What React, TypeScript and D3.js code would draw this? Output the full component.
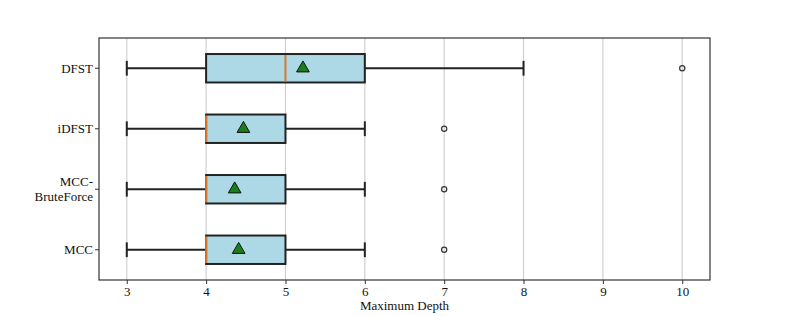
import React, { useEffect, useRef } from "react";
import * as d3 from "d3";

// categories, top to bottom
const methods = ["DFST", "iDFST", "MCC-\nBruteForce", "MCC"];
// box stats per method
const whiskerLow = [3, 3, 3, 3];
const q1 = [4, 4, 4, 4];
const medians = [5, 4, 4, 4];
const q3 = [6, 5, 5, 5];
const whiskerHigh = [8, 6, 6, 6];
const means = [5.22, 4.47, 4.36, 4.41];
const outliers = [[10], [7], [7], [7]];
const xTicks = [3, 4, 5, 6, 7, 8, 9, 10];

const W = 789;
const H = 316;
const margin = { top: 38, right: 79, bottom: 36, left: 99 };
const font = "Liberation Serif";

export default function App() {
  const ref = useRef<SVGSVGElement>(null);

  useEffect(() => {
    const svg = d3.select(ref.current);
    svg.selectAll("*").remove();

    const x = d3
      .scaleLinear()
      .domain([2.65, 10.35])
      .range([margin.left, W - margin.right]);
    const y = d3
      .scaleLinear()
      .domain([0.5, methods.length + 0.5])
      .range([margin.top, H - margin.bottom]);

    const boxH = (y(1) - y(0)) * 0.47;
    const capH = boxH * 0.52;

    // grid
    svg
      .append("g")
      .selectAll("line")
      .data(xTicks)
      .enter()
      .append("line")
      .attr("x1", (d) => x(d))
      .attr("x2", (d) => x(d))
      .attr("y1", margin.top)
      .attr("y2", H - margin.bottom)
      .attr("stroke", "#d0d0d0")
      .attr("stroke-width", 1.2);

    const g = svg
      .append("g")
      .selectAll("g")
      .data(methods)
      .enter()
      .append("g");

    g.each(function (_, i) {
      const row = d3.select(this);
      const cy = y(i + 1);
      // whiskers
      row
        .append("line")
        .attr("x1", x(whiskerLow[i]))
        .attr("x2", x(q1[i]))
        .attr("y1", cy)
        .attr("y2", cy)
        .attr("stroke", "#222")
        .attr("stroke-width", 2);
      row
        .append("line")
        .attr("x1", x(q3[i]))
        .attr("x2", x(whiskerHigh[i]))
        .attr("y1", cy)
        .attr("y2", cy)
        .attr("stroke", "#222")
        .attr("stroke-width", 2);
      [whiskerLow[i], whiskerHigh[i]].forEach((v) => {
        row
          .append("line")
          .attr("x1", x(v))
          .attr("x2", x(v))
          .attr("y1", cy - capH / 2)
          .attr("y2", cy + capH / 2)
          .attr("stroke", "#222")
          .attr("stroke-width", 2);
      });
      // box
      row
        .append("rect")
        .attr("x", x(q1[i]))
        .attr("y", cy - boxH / 2)
        .attr("width", x(q3[i]) - x(q1[i]))
        .attr("height", boxH)
        .attr("fill", "#add8e6")
        .attr("stroke", "#222")
        .attr("stroke-width", 2);
      // median
      row
        .append("line")
        .attr("x1", x(medians[i]))
        .attr("x2", x(medians[i]))
        .attr("y1", cy - boxH / 2 + 1)
        .attr("y2", cy + boxH / 2 - 1)
        .attr("stroke", "#d9762b")
        .attr("stroke-width", 2);
      // mean
      row
        .append("path")
        .attr("d", d3.symbol(d3.symbolTriangle, 70)())
        .attr("transform", `translate(${x(means[i])},${cy})`)
        .attr("fill", "#1a7f1a")
        .attr("stroke", "#111")
        .attr("stroke-width", 1);
      // fliers
      outliers[i].forEach((v) => {
        row
          .append("circle")
          .attr("cx", x(v))
          .attr("cy", cy)
          .attr("r", 2.6)
          .attr("fill", "none")
          .attr("stroke", "#333")
          .attr("stroke-width", 1.2);
      });
    });

    // frame
    svg
      .append("rect")
      .attr("x", margin.left)
      .attr("y", margin.top)
      .attr("width", W - margin.left - margin.right)
      .attr("height", H - margin.top - margin.bottom)
      .attr("fill", "none")
      .attr("stroke", "#333")
      .attr("stroke-width", 1.2);

    // x axis
    const xAxis = svg
      .append("g")
      .attr("transform", `translate(0,${H - margin.bottom})`)
      .call(d3.axisBottom(x).tickValues(xTicks).tickSize(4).tickPadding(3));
    xAxis.select(".domain").remove();
    xAxis.attr("font-family", font).attr("font-size", 13);
    xAxis.selectAll(".tick line").attr("stroke", "#333");
    xAxis.selectAll(".tick text").attr("fill", "#111").attr("font-family", font);

    svg
      .append("text")
      .attr("x", (margin.left + W - margin.right) / 2)
      .attr("y", H - 6)
      .attr("text-anchor", "middle")
      .attr("font-family", font)
      .attr("font-size", 13)
      .attr("fill", "#111")
      .text("Maximum Depth");

    // y labels
    const yl = svg.append("g");
    methods.forEach((m, i) => {
      const cy = y(i + 1);
      yl.append("line")
        .attr("x1", margin.left - 4)
        .attr("x2", margin.left)
        .attr("y1", cy)
        .attr("y2", cy)
        .attr("stroke", "#333");
      const lines = m.split("\n");
      const t = yl
        .append("text")
        .attr("text-anchor", "end")
        .attr("font-family", font)
        .attr("font-size", 13)
        .attr("fill", "#111");
      lines.forEach((ln, k) => {
        t.append("tspan")
          .attr("x", margin.left - 6)
          .attr("y", cy + 4.5 + (k - (lines.length - 1) / 2) * 15)
          .text(ln);
      });
    });
  }, []);

  return (
    <svg
      ref={ref}
      width={W}
      height={H}
      style={{
        position: "absolute",
        left: 0,
        top: 0,
        background: "#fff",
        fontFamily: '"Liberation Serif"',
      }}
    />
  );
}
